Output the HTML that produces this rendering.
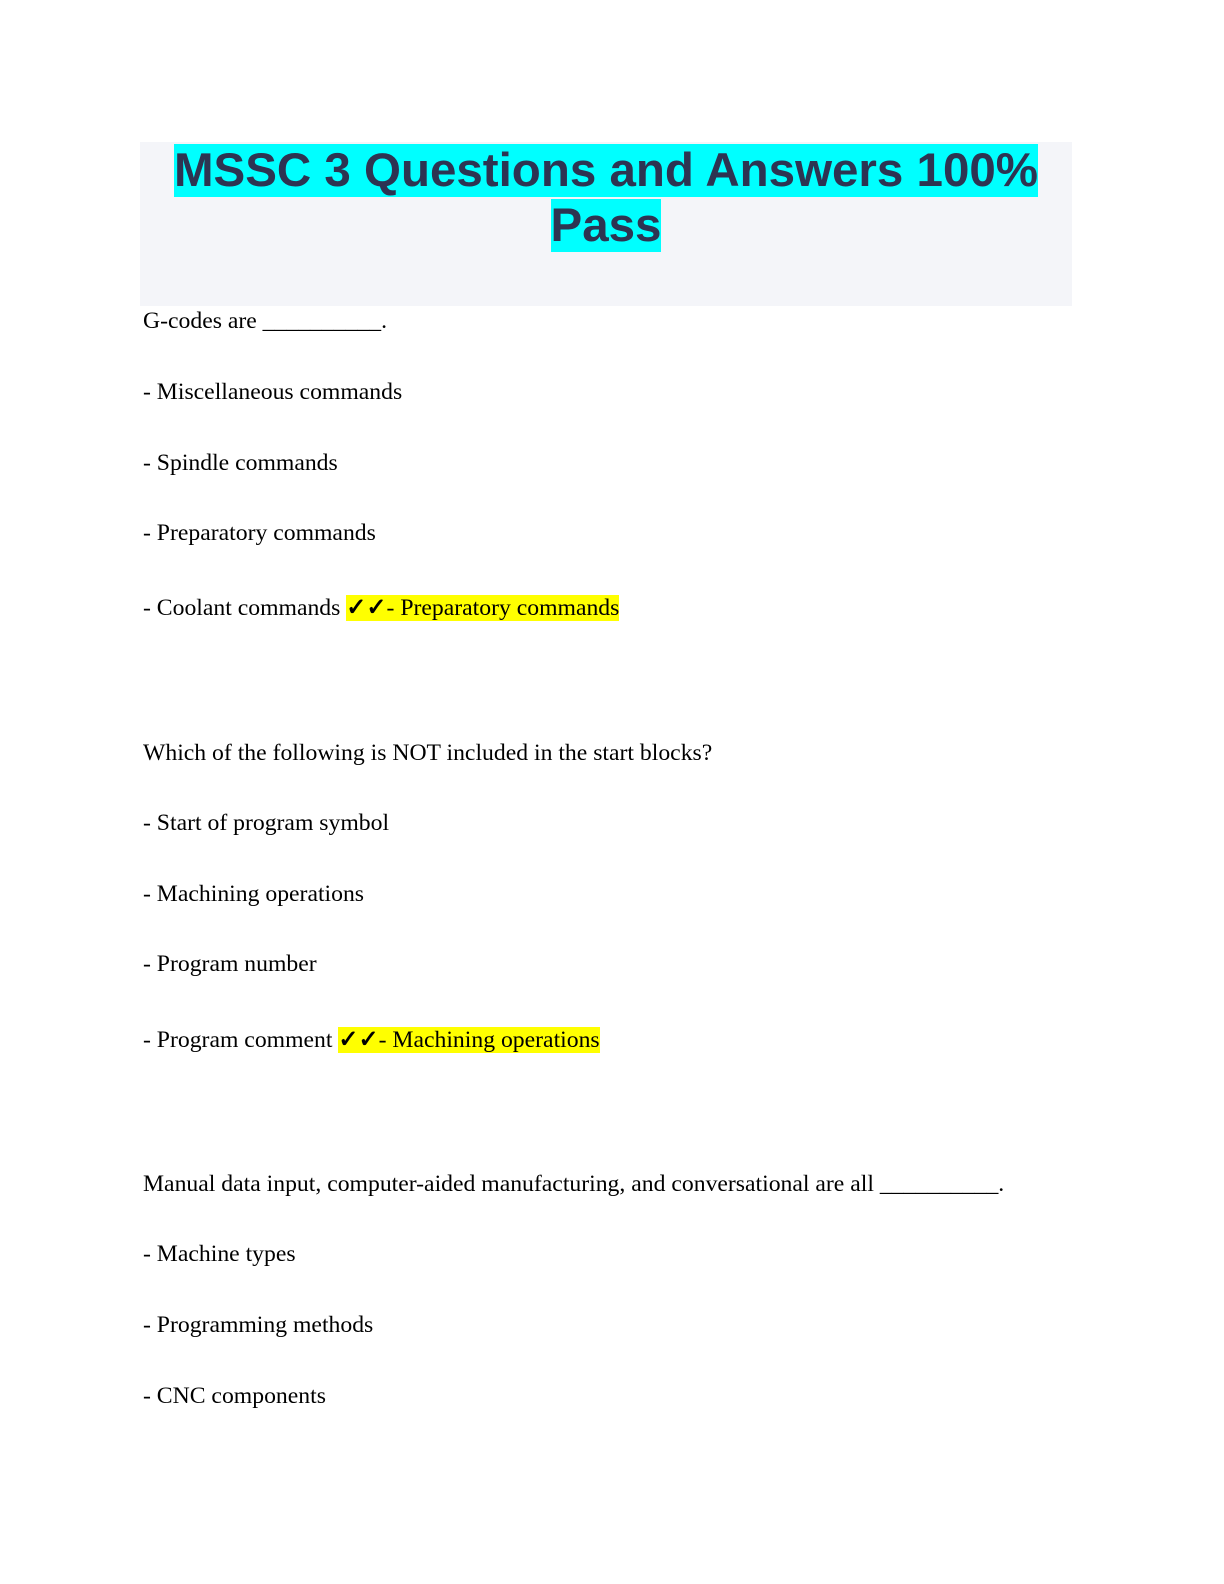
<!DOCTYPE html>
<html><head><style>
body{margin:0;width:1224px;height:1584px;background:#fff;position:relative;font-family:"Liberation Serif",serif;}
.box{position:absolute;left:140px;top:142px;width:932px;height:164px;background:#f4f5f9;}
.t{position:absolute;left:140px;width:932px;text-align:center;font-family:"Liberation Sans",sans-serif;font-weight:bold;font-size:47.5px;color:#2d3452;line-height:55px;}
.t span{background:#00ffff;}
.l{position:absolute;left:143px;font-size:23.7px;line-height:30px;color:#000;white-space:nowrap;}
.h{background:#ffff00;}
.c{font-family:"DejaVu Sans",sans-serif;font-weight:bold;font-size:24px;-webkit-text-stroke:0.8px #000;}
</style></head><body>
<div class="box"></div>
<div class="t" style="top:143px"><span>MSSC 3 Questions and Answers 100%</span></div>
<div class="t" style="top:198px"><span>Pass</span></div>
<div class="l" style="top:306px">G-codes are __________.</div>
<div class="l" style="top:377px">- Miscellaneous commands</div>
<div class="l" style="top:448px">- Spindle commands</div>
<div class="l" style="top:518px">- Preparatory commands</div>
<div class="l" style="top:592px">- Coolant commands <span class="h"><span class="c">✓✓</span>- Preparatory commands</span></div>
<div class="l" style="top:738px">Which of the following is NOT included in the start blocks?</div>
<div class="l" style="top:808px">- Start of program symbol</div>
<div class="l" style="top:879px">- Machining operations</div>
<div class="l" style="top:949px">- Program number</div>
<div class="l" style="top:1024px">- Program comment <span class="h"><span class="c">✓✓</span>- Machining operations</span></div>
<div class="l" style="top:1169px">Manual data input, computer-aided manufacturing, and conversational are all __________.</div>
<div class="l" style="top:1239px">- Machine types</div>
<div class="l" style="top:1310px">- Programming methods</div>
<div class="l" style="top:1381px">- CNC components</div>
</body></html>
